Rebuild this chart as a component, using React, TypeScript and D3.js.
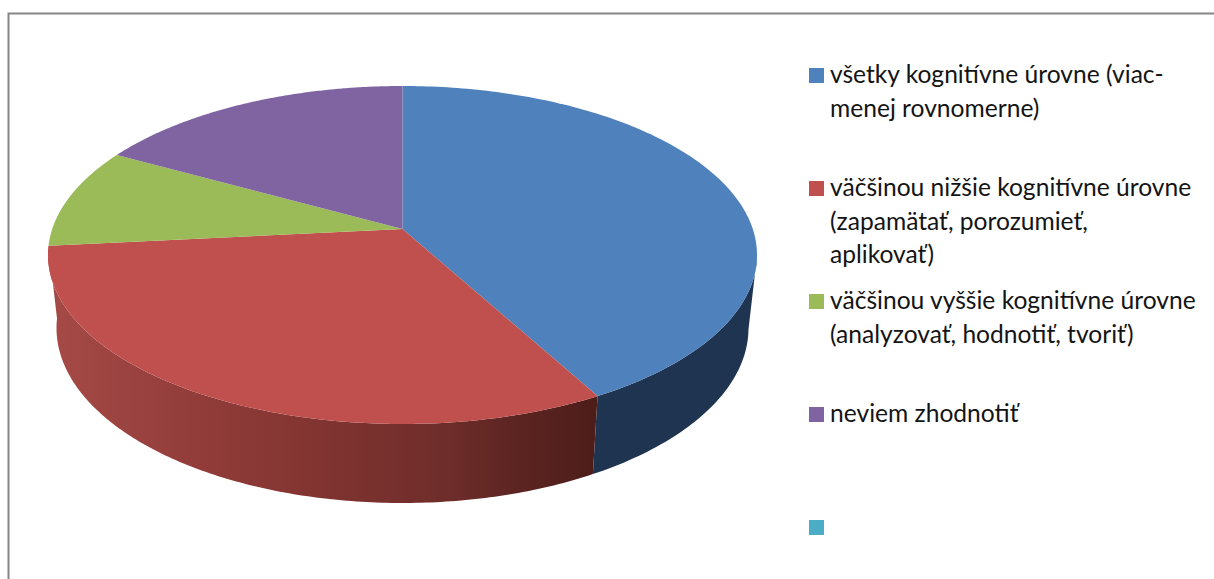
import React from "react";
import * as d3 from "d3";

const categories = [
  ["všetky kognitívne úrovne (viac-", "menej rovnomerne)"],
  ["väčšinou nižšie kognitívne úrovne", "(zapamätať, porozumieť,", "aplikovať)"],
  ["väčšinou vyššie kognitívne úrovne", "(analyzovať, hodnotiť, tvoriť)"],
  ["neviem zhodnotiť"],
  [""],
];
const values = [42, 31.4, 9.6, 17, 0];
const colors = ["#4f81bd", "#c0504d", "#9bbb59", "#8064a2", "#4bacc6"];
const sideStops = [
  { o: 0.02, c: "#a44946" },
  { o: 0.28, c: "#913c39" },
  { o: 0.46, c: "#843532" },
  { o: 0.73, c: "#6e2d2a" },
  { o: 0.86, c: "#5c2421" },
  { o: 1, c: "#4d1d1a" },
];
const blueSide = "#1f3450";

const top = { cx: 402.5, cy: 255, rx: 354.5, ry: 169 };
const bottom = { cx: 402.5, cy: 328, rx: 346, ry: 175 };
const k = -0.154;
const s = Math.sqrt(1 - k * k);
const project = (theta: number, e: typeof top) => {
  const u = Math.sin(theta);
  const v = -Math.cos(theta);
  const d = 1 + k * v;
  return [e.cx + (e.rx * (u * s)) / d, e.cy + (e.ry * (v + k)) / d] as [number, number];
};
const apex = [top.cx, top.cy + top.ry * k] as [number, number];
const line = d3.line();

export default function App() {
  const arcs = d3.pie<number>().sort(null).startAngle(0).endAngle(2 * Math.PI)(values);
  const samples = (a: number, b: number) =>
    d3.range(0, 161).map((i) => d3.interpolateNumber(a, b)(i / 160));
  const legendY = d3.scalePoint<number>().domain(d3.range(5)).range([68, 520]);
  return (
    <svg
      width={1214}
      height={579}
      style={{ position: "fixed", left: 0, top: 0, background: "#fff" }}
      fontFamily="Lato, 'Noto Sans', sans-serif"
    >
      <defs>
        <linearGradient id="redSide" gradientUnits="userSpaceOnUse" x1={48} x2={595} y1={0} y2={0}>
          {sideStops.map((d) => (
            <stop key={d.o} offset={d.o} stopColor={d.c} />
          ))}
        </linearGradient>
      </defs>
      <path d="M1214,13.5H8.5V579" fill="none" stroke="#868686" strokeWidth={2} />
      {arcs.slice(0, 2).map((a, i) => {
        const th = samples(a.startAngle, a.endAngle).filter((t) => i > 0 || project(t, top)[1] >= top.cy);
        const pts = [...th.map((t) => project(t, top)), ...th.slice().reverse().map((t) => project(t, bottom))];
        return <path key={i} d={line(pts) + "Z"} fill={i === 0 ? blueSide : "url(#redSide)"} />;
      })}
      {arcs.map((a, i) =>
        a.endAngle > a.startAngle ? (
          <path
            key={i}
            d={line([apex, ...samples(a.startAngle, a.endAngle).map((t) => project(t, top))]) + "Z"}
            fill={colors[i]}
          />
        ) : null
      )}
      {categories.map((lines, i) => {
        const y = legendY(i) as number;
        return (
          <g key={i}>
            <rect x={809} y={y} width={15} height={15} fill={colors[i]} />
            {lines.map((t, j) => (
              <text key={j} x={830} y={y + 15 + j * 33.5} fontSize={24.6} fill="#141414">
                {t}
              </text>
            ))}
          </g>
        );
      })}
    </svg>
  );
}
